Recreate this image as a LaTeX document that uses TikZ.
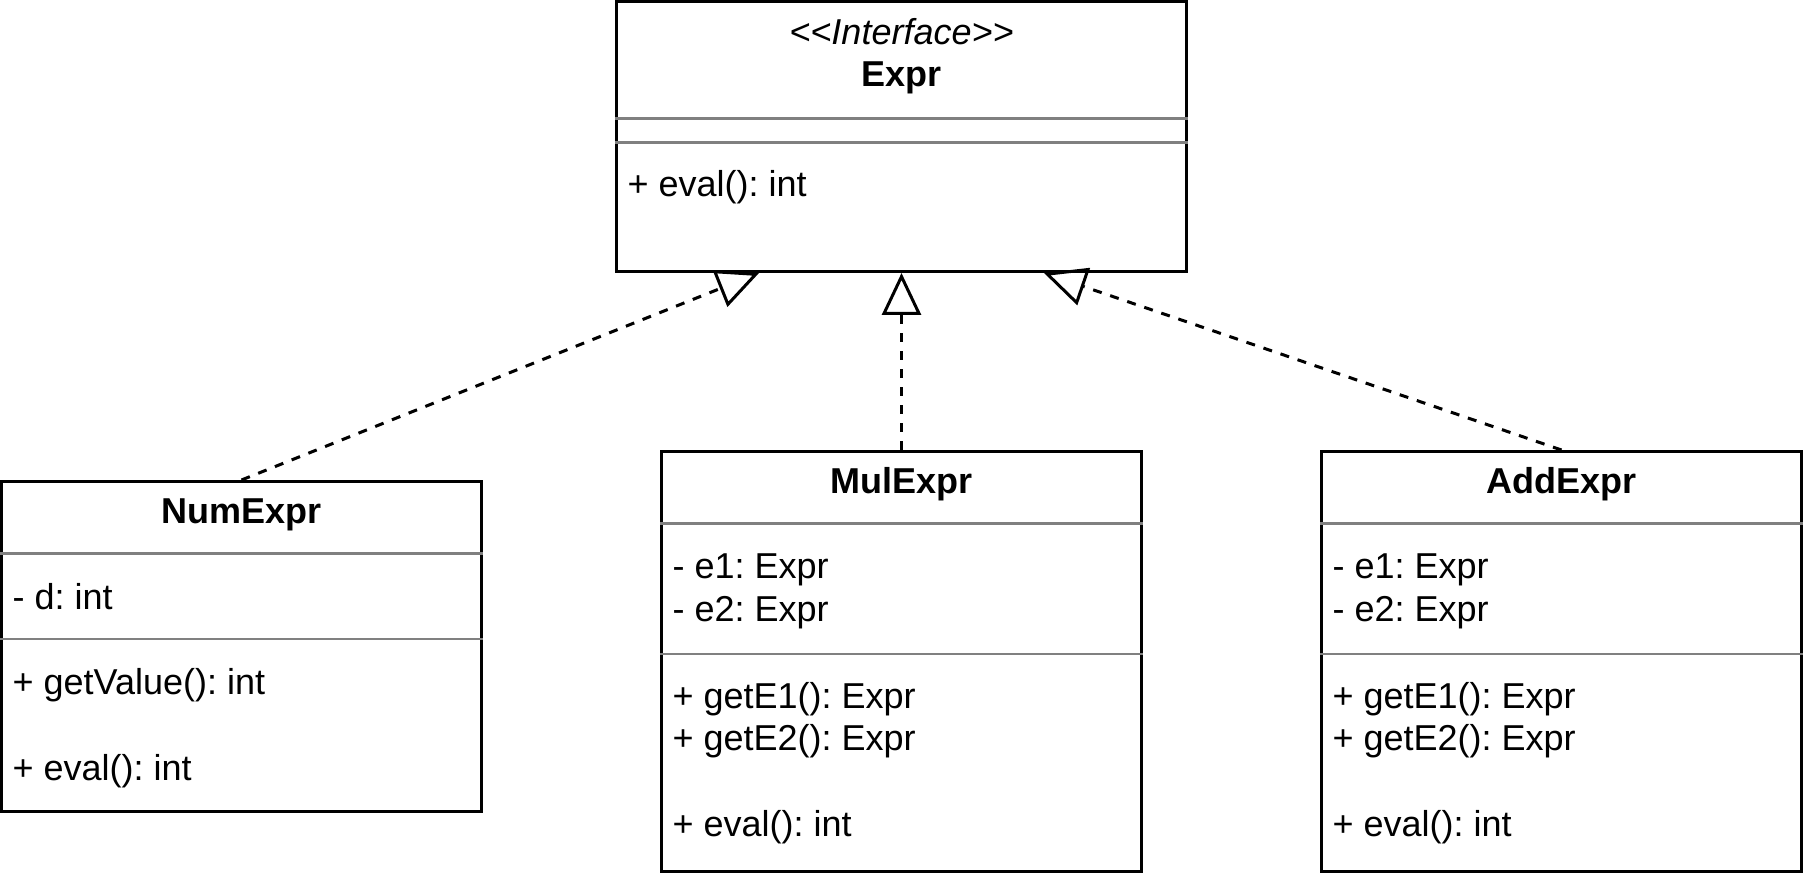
\documentclass[tikz,border=0pt]{standalone}
\usepackage{fontspec}
\setmainfont{Liberation Sans}
\usetikzlibrary{arrows.meta}
\frenchspacing

\begin{document}
\begin{tikzpicture}[x=1pt,y=-1pt]
\tikzstyle{every node}=[font=\fontsize{12}{14.4}\selectfont]
\tikzstyle{classbox}=[draw, line width=1pt, fill=white, minimum width=160pt, anchor=north west, inner sep=0pt]
\tikzstyle{sep}=[draw=gray, line width=0.8pt]
\tikzstyle{member}=[anchor=west, inner sep=0pt, text height=9pt, text depth=3pt, yshift=-1.1pt]
\tikzstyle{title}=[inner sep=0pt, text height=9pt, text depth=3pt, font=\fontsize{12}{14.4}\selectfont\bfseries]
\tikzstyle{realize}=[line width=1pt, dash pattern=on 3pt off 3pt, -{Triangle[open, length=14pt, width=13pt]}]
\useasboundingbox (0,0) rectangle (601,291);

% boxes
\node [classbox, minimum width=190pt, minimum height=90pt] (expr) at (205,0) {};
\node [classbox, minimum height=110pt] (num) at (0,160) {};
\node [classbox, minimum height=140pt] (mul) at (220,150) {};
\node [classbox, minimum height=140pt] (add) at (440,150) {};

% compartments
\draw [sep] (expr.west |- 0,39.5) -- (expr.east |- 0,39.5);
\draw [sep] (expr.west |- 0,47.5) -- (expr.east |- 0,47.5);
\draw [sep] (num.west |- 0,184.5) -- (num.east |- 0,184.5);
\draw [sep] (num.west |- 0,213) -- (num.east |- 0,213);
\draw [sep] (mul.west |- 0,174.5) -- (mul.east |- 0,174.5);
\draw [sep] (mul.west |- 0,218) -- (mul.east |- 0,218);
\draw [sep] (add.west |- 0,174.5) -- (add.east |- 0,174.5);
\draw [sep] (add.west |- 0,218) -- (add.east |- 0,218);

% Expr
\node [inner sep=0pt, font=\fontsize{12}{14.4}\selectfont\itshape] (exprst) at (expr.north |- 0,10.7) {<\kern0pt<Interface>\kern0pt>};
\node [title] (exprname) at (expr.north |- 0,25.9) {Expr};
\node [member] (expreval) at (209,61.3) {+ eval(): int};

% NumExpr
\node [title] (numname) at (num.north |- 0,171.5) {NumExpr};
\node [member] (numd) at (4,199) {- d: int};
\node [member] (numget) at (4,227.3) {+ getValue(): int};
\node [member] (numeval) at (4,256.1) {+ eval(): int};

% MulExpr
\node [title] (mulname) at (mul.north |- 0,161.5) {MulExpr};
\node [member] (mula) at (224,188.6) {- e1: Expr};
\node [member] (mulb) at (224,203.2) {- e2: Expr};
\node [member] (mulgeta) at (224,231.9) {+ getE1(): Expr};
\node [member] (mulgetb) at (224,246.1) {+ getE2(): Expr};
\node [member] (muleval) at (224,274.8) {+ eval(): int};

% AddExpr
\node [title] (addname) at (add.north |- 0,161.5) {AddExpr};
\node [member] (adda) at (444,188.6) {- e1: Expr};
\node [member] (addb) at (444,203.2) {- e2: Expr};
\node [member] (addgeta) at (444,231.9) {+ getE1(): Expr};
\node [member] (addgetb) at (444,246.1) {+ getE2(): Expr};
\node [member] (addeval) at (444,274.8) {+ eval(): int};

% realizations
\draw [realize] (num.north) -- ([xshift=-47.5pt]expr.south);
\draw [realize] (mul.north) -- (expr.south);
\draw [realize] (add.north) -- ([xshift=47.5pt]expr.south);
\end{tikzpicture}
\end{document}
